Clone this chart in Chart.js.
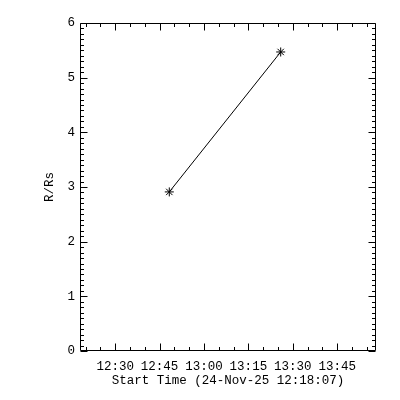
<!DOCTYPE html>
<html lang="en">
<head>
  <meta charset="UTF-8">
  <title>R/Rs vs start time</title>
  <script src="https://cdn.jsdelivr.net/npm/chart.js"></script>
  <style>
    html, body { margin: 0; padding: 0; background: #fff; }
  </style>
</head>
<body>
  <canvas id="plot" width="400" height="400"></canvas>

  <script>
    // time axis runs from the start time, heights
    const startTime = "12:18:07";
    const endTime = "13:58:07";
    const obsTimes = ["12:48:17", "13:25:55"];
    const obsHeights = [2.91, 5.47];
    const xTickLabels = ["12:30", "12:45", "13:00", "13:15", "13:30", "13:45"];
    const yTickLabels = ["0", "1", "2", "3", "4", "5", "6"];
    const xTitle = "Start Time (24-Nov-25 12:18:07)";
    const yTitle = "R/Rs";

    function toMin(t) {
      const p = t.split(":").map(Number);
      return p[0] * 60 + p[1] + (p[2] || 0) / 60;
    }
    const t0 = toMin(startTime);
    const rel = t => toMin(t) - t0;

    const points = obsTimes.map((t, i) => ({ x: rel(t), y: obsHeights[i] }));

    // IDL style box with inward ticks on all four sides
    const frameTicks = {
      id: 'frameTicks',
      afterDatasetsDraw(chart) {
        const { ctx, chartArea: a, scales: { x, y } } = chart;
        const L = a.left + 0.5, R = a.right - 0.5, T = a.top + 0.5, B = a.bottom - 0.5;
        ctx.save();
        ctx.strokeStyle = '#000';
        ctx.lineWidth = 1;
        ctx.beginPath();
        ctx.rect(L, T, R - L, B - T);

        const first = rel(xTickLabels[0]);
        for (let k = -10; k <= 40; k++) {
          const v = first + 5 * k;
          if (v < x.min || v > x.max) continue;
          const len = k % 3 === 0 ? 7 : 3.5;
          const px = Math.round(x.getPixelForValue(v)) + 0.5;
          ctx.moveTo(px, B); ctx.lineTo(px, B - len);
          ctx.moveTo(px, T); ctx.lineTo(px, T + len);
        }
        for (let i = 0; i <= 60; i++) {
          const v = i / 10;
          const len = i % 10 === 0 ? 7 : 3.5;
          const py = Math.round(y.getPixelForValue(v)) + 0.5;
          ctx.moveTo(L, py); ctx.lineTo(L + len, py);
          ctx.moveTo(R, py); ctx.lineTo(R - len, py);
        }
        ctx.stroke();
        ctx.restore();
      }
    };

    Chart.defaults.font.family = '"Liberation Mono", "DejaVu Sans Mono", monospace';
    Chart.defaults.font.size = 12.5;
    Chart.defaults.color = '#000';

    new Chart(document.getElementById('plot'), {
      type: 'scatter',
      data: {
        datasets: [{
          data: points,
          showLine: true,
          borderColor: '#000',
          borderWidth: 1,
          pointStyle: 'star',
          pointRadius: 4.5,
          pointBorderWidth: 1,
          pointBorderColor: '#000',
          pointBackgroundColor: '#000'
        }]
      },
      options: {
        responsive: false,
        animation: false,
        devicePixelRatio: 1,
        layout: { padding: { top: 23, right: 24, left: 0, bottom: 0 } },
        plugins: { legend: { display: false }, tooltip: { enabled: false } },
        scales: {
          x: {
            type: 'linear',
            min: 0,
            max: rel(endTime),
            afterBuildTicks: s => { s.ticks = xTickLabels.map(l => ({ value: rel(l) })); },
            afterFit: s => { s.height = 49; },
            ticks: {
              autoSkip: false,
              maxRotation: 0,
              padding: 8,
              callback: (v, i) => xTickLabels[i]
            },
            grid: { display: false, drawTicks: false },
            border: { display: false },
            title: { display: true, text: xTitle, padding: { top: 0, bottom: 12 } }
          },
          y: {
            min: 0,
            max: 6,
            afterBuildTicks: s => { s.ticks = yTickLabels.map(l => ({ value: Number(l) })); },
            afterFit: s => { s.width = 80; },
            ticks: { padding: 5, callback: (v, i) => yTickLabels[i] },
            grid: { display: false, drawTicks: false },
            border: { display: false },
            title: { display: true, text: yTitle, padding: { top: 42, bottom: 0 } }
          }
        }
      },
      plugins: [frameTicks]
    });
  </script>
</body>
</html>
